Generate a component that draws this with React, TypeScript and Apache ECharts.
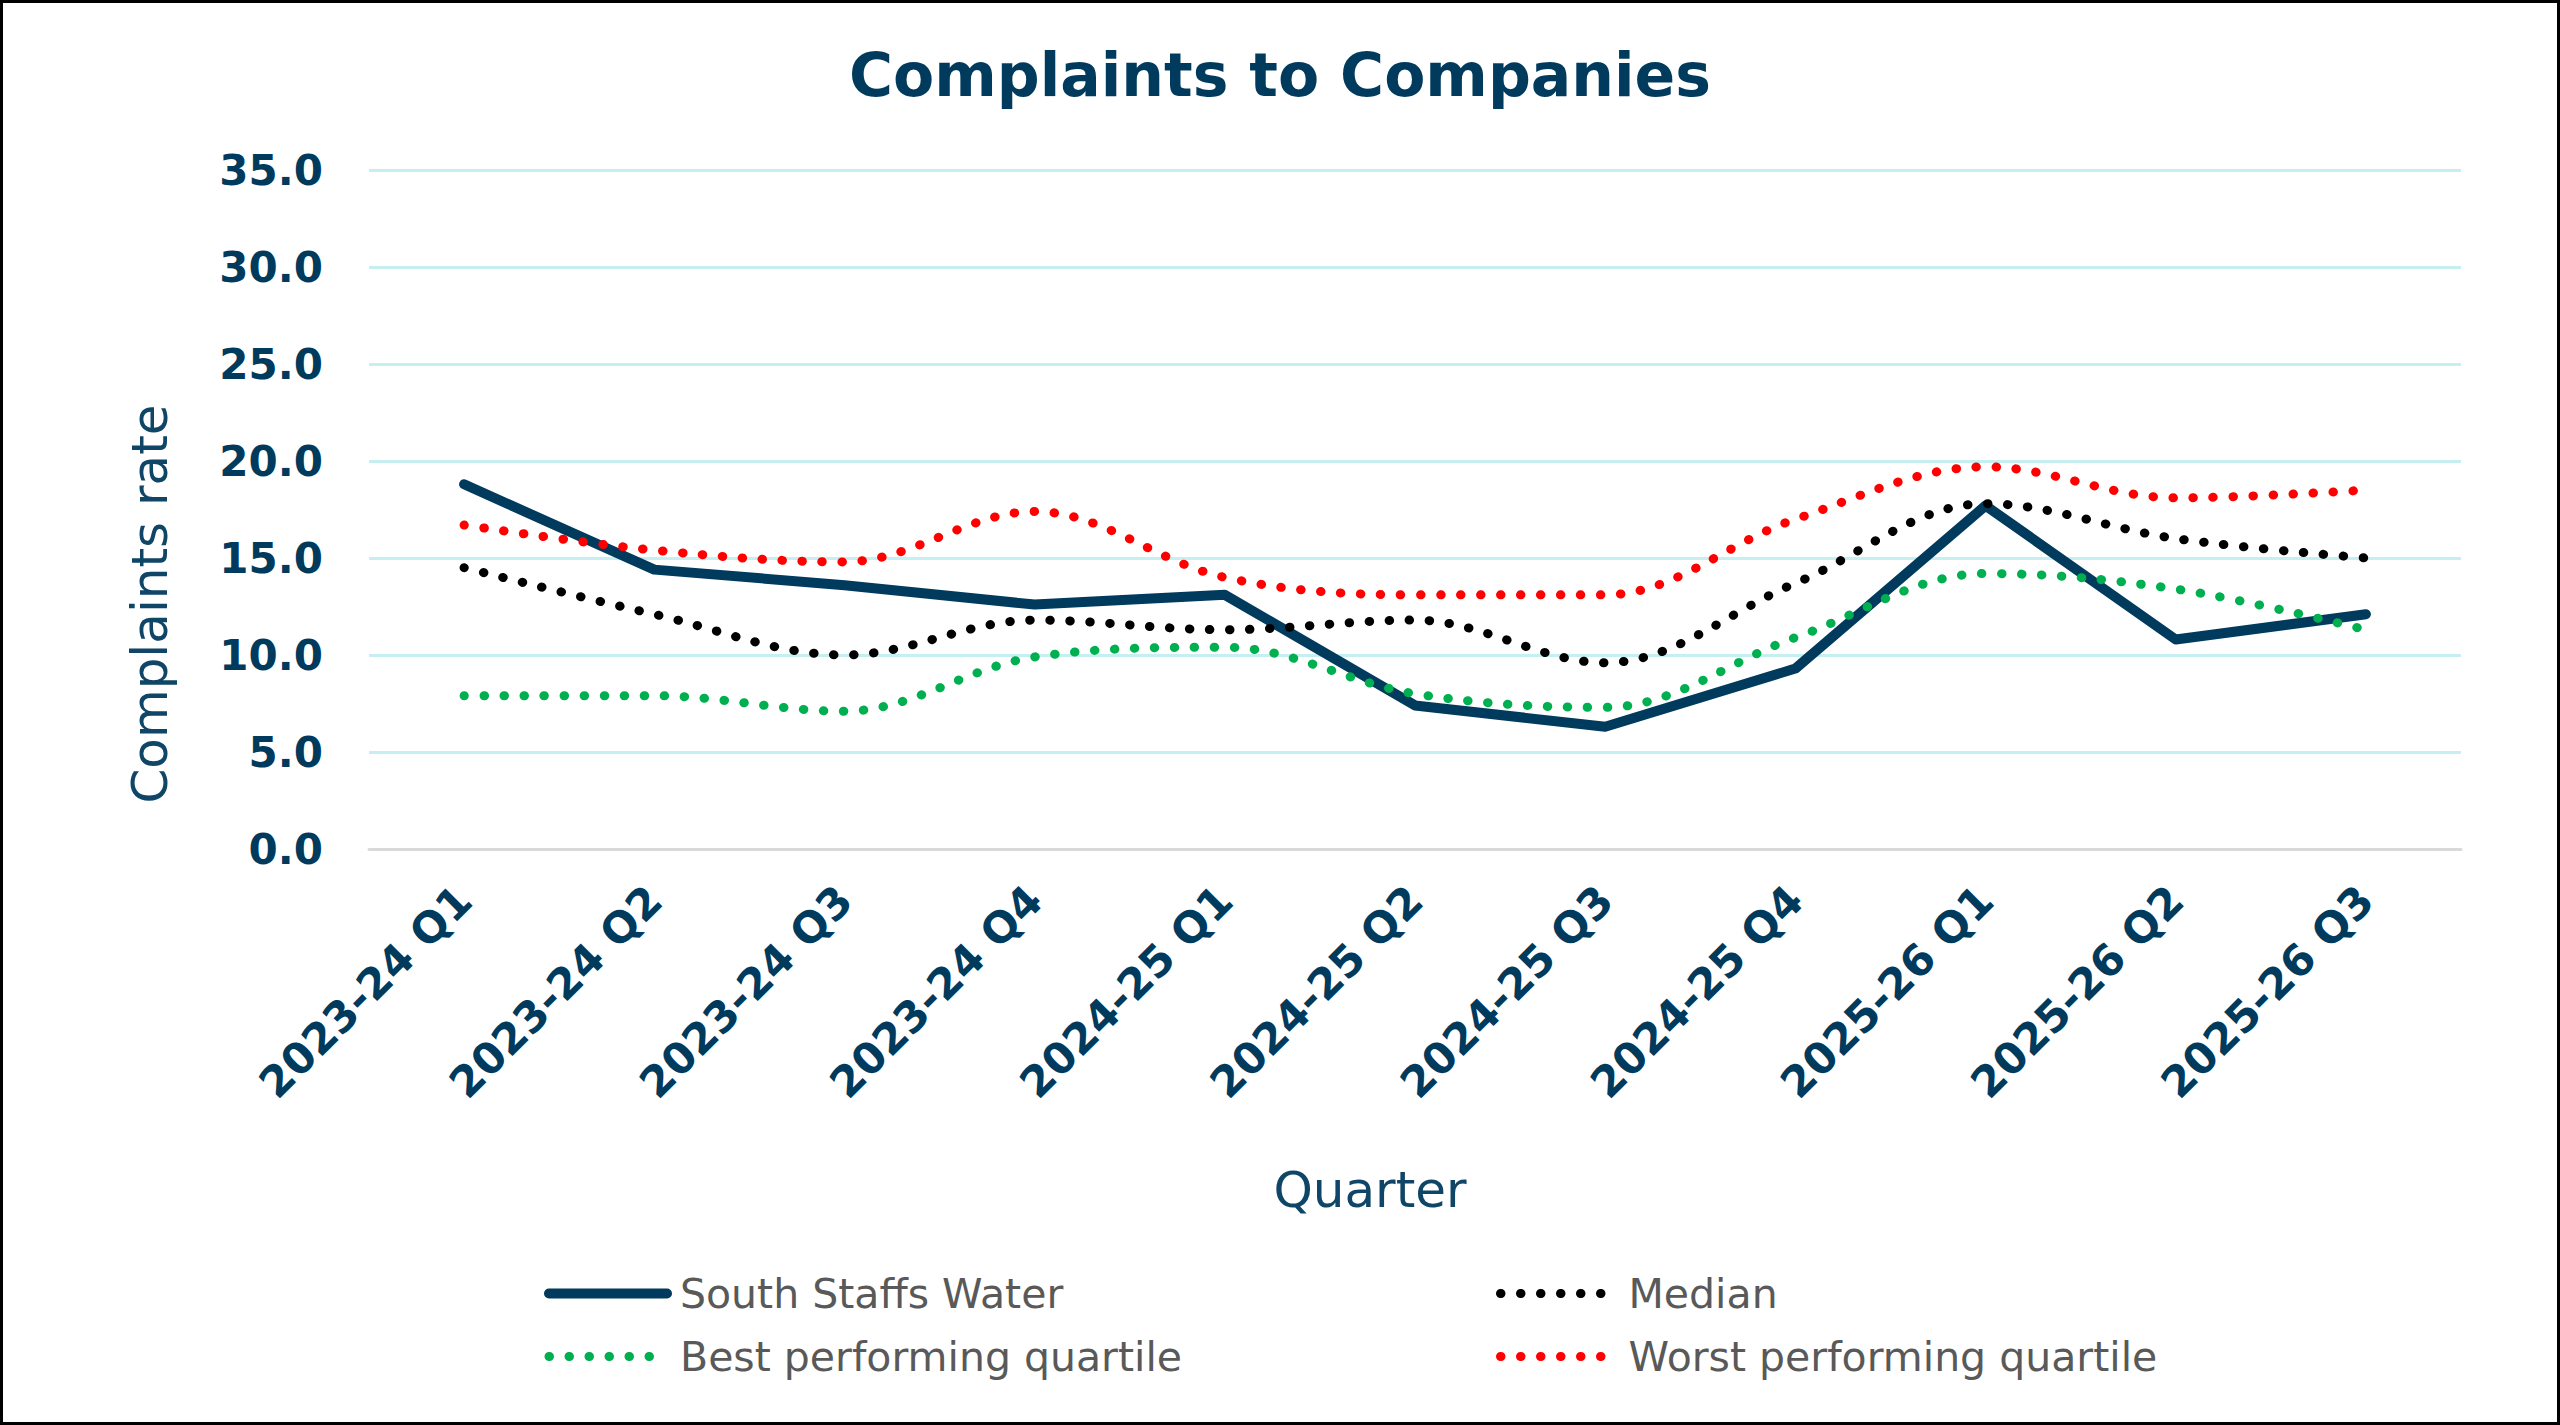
import React, { useEffect, useRef } from "react";
import * as echarts from "echarts";

const categories = [
  "2023-24 Q1", "2023-24 Q2", "2023-24 Q3", "2023-24 Q4",
  "2024-25 Q1", "2024-25 Q2", "2024-25 Q3", "2024-25 Q4",
  "2025-26 Q1", "2025-26 Q2", "2025-26 Q3",
];
const southStaffs = [18.8, 14.4, 13.6, 12.6, 13.1, 7.4, 6.3, 9.3, 17.7, 10.8, 12.1];
const median = [14.5, 12.1, 10.0, 11.8, 11.3, 11.8, 9.6, 13.7, 17.8, 16.0, 15.0];
const bestQuartile = [7.9, 7.9, 7.1, 9.9, 10.4, 8.0, 7.3, 10.9, 14.2, 13.4, 11.3];
const worstQuartile = [16.7, 15.4, 14.8, 17.4, 14.0, 13.1, 13.1, 17.0, 19.7, 18.1, 18.5];
const seriesNames = ["South Staffs Water", "Median", "Best performing quartile", "Worst performing quartile"];

const NAVY = "#003a5c";
const AXIS_TITLE = "#0f4566";
const FONT = "'DejaVu Sans', 'Noto Sans', sans-serif";

export default function App() {
  const ref = useRef<HTMLDivElement>(null);

  useEffect(() => {
    document.body.style.margin = "0";
    if (!ref.current) return;
    const chart = echarts.init(ref.current, undefined, { renderer: "svg" });

    const dotted = (color: string) => ({
      width: 9,
      color,
      type: [0.5, 19.5],
      cap: "round",
    });

    const legendBase = {
      orient: "vertical",
      top: 1273,
      padding: 0,
      itemHeight: 14,
      itemGap: 22,
      itemStyle: { opacity: 0, borderWidth: 0 },
      lineStyle: { width: "inherit", type: "inherit", color: "inherit", cap: "round" },
    };

    chart.setOption({
      animation: false,
      backgroundColor: "#ffffff",
      textStyle: { fontFamily: FONT },
      grid: { left: 369, right: 99, top: 170, bottom: 576, containLabel: false },
      graphic: [
        {
          type: "rect",
          shape: { x: 1.5, y: 1.5, width: 2557, height: 1422 },
          style: { fill: "none", stroke: "#000000", lineWidth: 3 },
          silent: true,
        },
        {
          type: "text",
          x: 1280,
          y: 75,
          style: {
            text: "Complaints to Companies",
            fontSize: 60,
            fontWeight: "bold",
            fontFamily: FONT,
            fill: NAVY,
            align: "center",
            verticalAlign: "middle",
          },
        },
        {
          type: "text",
          x: 150,
          y: 604,
          rotation: Math.PI / 2,
          style: {
            text: "Complaints rate",
            fontSize: 50,
            fontFamily: FONT,
            fill: AXIS_TITLE,
            align: "center",
            verticalAlign: "middle",
          },
        },
        {
          type: "text",
          x: 1370,
          y: 1190,
          style: {
            text: "Quarter",
            fontSize: 50,
            fontFamily: FONT,
            fill: AXIS_TITLE,
            align: "center",
            verticalAlign: "middle",
          },
        },
      ],
      legend: [
        {
          ...legendBase,
          left: 544,
          itemWidth: 118,
          data: [seriesNames[0], seriesNames[2]],
          textStyle: { fontSize: 41, color: "#595959", fontFamily: FONT, padding: [0, 0, 0, 8] },
        },
        {
          ...legendBase,
          left: 1496,
          itemWidth: 110,
          data: [seriesNames[1], seriesNames[3]],
          textStyle: { fontSize: 41, color: "#595959", fontFamily: FONT, padding: [0, 0, 0, 13] },
        },
      ],
      xAxis: {
        type: "category",
        data: categories,
        boundaryGap: true,
        axisLine: { show: true, lineStyle: { color: "#d9d9d9", width: 3 } },
        axisTick: { show: false },
        axisLabel: {
          rotate: 45,
          fontSize: 43,
          fontWeight: "bold",
          color: NAVY,
          margin: 44,
          fontFamily: FONT,
          interval: 0,
        },
        splitLine: { show: false },
      },
      yAxis: {
        type: "value",
        min: 0,
        max: 35,
        interval: 5,
        axisLine: { show: false },
        axisTick: { show: false },
        axisLabel: {
          formatter: (v: number) => v.toFixed(1),
          fontSize: 42,
          fontWeight: "bold",
          color: NAVY,
          margin: 46,
          fontFamily: FONT,
        },
        splitLine: { show: true, lineStyle: { color: "#c6eff1", width: 3 } },
      },
      series: [
        {
          name: seriesNames[0],
          type: "line",
          data: southStaffs,
          symbol: "none",
          smooth: false,
          color: NAVY,
          lineStyle: { width: 10, color: NAVY, cap: "round", join: "round" },
        },
        {
          name: seriesNames[1],
          type: "line",
          data: median,
          symbol: "none",
          smooth: 0.35,
          color: "#000000",
          lineStyle: dotted("#000000"),
        },
        {
          name: seriesNames[2],
          type: "line",
          data: bestQuartile,
          symbol: "none",
          smooth: 0.35,
          color: "#00b050",
          lineStyle: dotted("#00b050"),
        },
        {
          name: seriesNames[3],
          type: "line",
          data: worstQuartile,
          symbol: "none",
          smooth: 0.35,
          color: "#ff0000",
          lineStyle: dotted("#ff0000"),
        },
      ],
    });

    return () => chart.dispose();
  }, []);

  return (
    <div
      ref={ref}
      style={{ position: "fixed", left: 0, top: 0, width: 2560, height: 1425 }}
    />
  );
}
